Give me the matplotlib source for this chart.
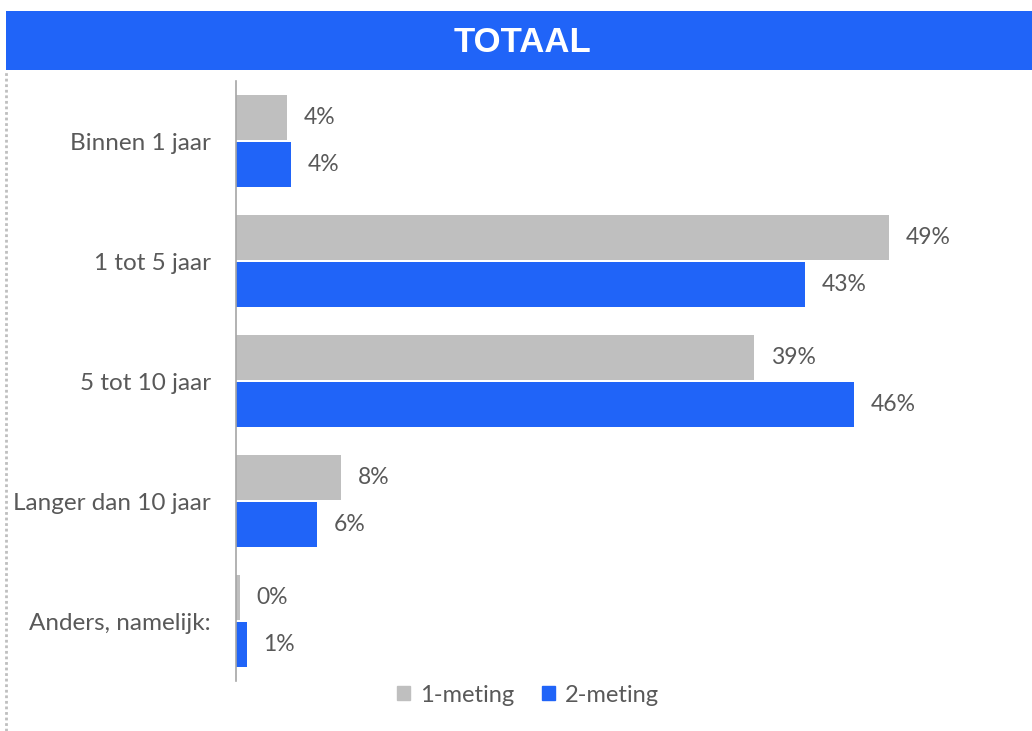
import matplotlib.pyplot as plt
import matplotlib.patches as mpatches
from matplotlib.lines import Line2D
import numpy as np

# Data
categories = ['Binnen 1 jaar', '1 tot 5 jaar', '5 tot 10 jaar', 'Langer dan 10 jaar', 'Anders, namelijk:']
meting_1 = [3.8, 49.0, 38.9, 7.9, 0.3]
meting_2 = [4.1, 42.7, 46.4, 6.1, 0.8]
labels_1 = ['4%', '49%', '39%', '8%', '0%']
labels_2 = ['4%', '43%', '46%', '6%', '1%']
series_names = ['1-meting', '2-meting']
title = 'TOTAAL'

grey = '#BFBFBF'
blue = '#2064F8'
text_color = '#595959'

plt.rcParams['font.family'] = ['Lato', 'DejaVu Sans']

fig = plt.figure(figsize=(10.32, 7.31), dpi=100)

# header banner
W, H = 1032, 731
fig.patches.append(mpatches.Rectangle((6 / W, 1 - 70 / H), 1 - 6 / W, 59 / H,
                                      transform=fig.transFigure, facecolor=blue,
                                      edgecolor='none', zorder=0))
fig.text(522 / W, 1 - 42 / H, title, color='white', fontsize=25, fontweight='bold',
         family='Liberation Sans', ha='center', va='center')

# dotted border on the left
fig.add_artist(Line2D([6 / W, 6 / W], [0, 1 - 70 / H], transform=fig.transFigure,
                      color='#BFBFBF', linestyle=(0, (1, 1)), linewidth=2))

ax = fig.add_axes([236 / W, 50 / H, 773 / W, 600 / H])
y = np.arange(len(categories))
h = 0.38
off = 0.195
ax.barh(y - off, meting_1, height=h, color=grey, label=series_names[0])
ax.barh(y + off, meting_2, height=h, color=blue, label=series_names[1])

for i in range(len(categories)):
    ax.annotate(labels_1[i], (meting_1[i], y[i] - off), xytext=(12, 0), textcoords='offset points',
                va='center', ha='left', color=text_color, fontsize=16.5)
    ax.annotate(labels_2[i], (meting_2[i], y[i] + off), xytext=(12, 0), textcoords='offset points',
                va='center', ha='left', color=text_color, fontsize=16.5)

ax.set_xlim(0, 58)
ax.set_ylim(len(categories) - 0.5, -0.5)
ax.set_yticks(y)
ax.set_yticklabels(categories, color=text_color, fontsize=17.5)
ax.tick_params(axis='y', length=0, pad=18)
ax.set_xticks([])
for s in ['top', 'right', 'bottom']:
    ax.spines[s].set_visible(False)
ax.spines['left'].set_color('#A6A6A6')
ax.spines['left'].set_linewidth(1.2)

handles = [mpatches.Patch(color=grey), mpatches.Patch(color=blue)]
leg = fig.legend(handles, series_names, loc='center', bbox_to_anchor=(528 / W, 1 - 695 / H),
                 ncol=2, frameon=False, fontsize=17, handlelength=0.55, handleheight=0.55,
                 handletextpad=0.4, columnspacing=1.2)
for t in leg.get_texts():
    t.set_color(text_color)

fig.savefig('out.png', dpi=100)
